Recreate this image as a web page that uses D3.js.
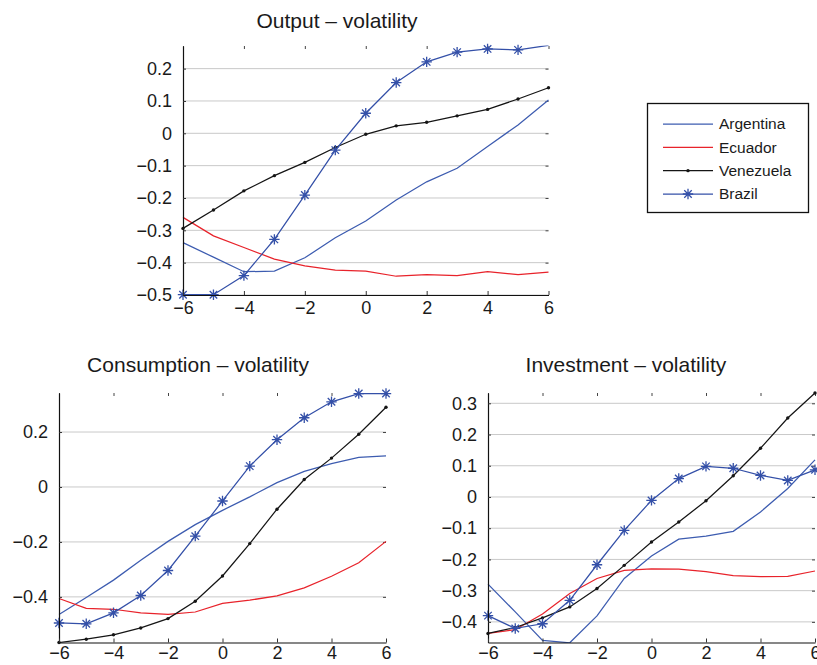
<!DOCTYPE html>
<html>
<head>
<meta charset="utf-8">
<script src="https://cdn.jsdelivr.net/npm/d3@7"></script>
<style>
  html, body { margin: 0; padding: 0; background: #fff; }
  svg { display: block; font-family: "Liberation Sans", Arial, Helvetica, sans-serif; }
</style>
</head>
<body>
<svg id="chart" width="817" height="665"></svg>
<script>
// ---------- DATA ----------
const leads = [-6, -5, -4, -3, -2, -1, 0, 1, 2, 3, 4, 5, 6];
const countries = ["Argentina", "Ecuador", "Venezuela", "Brazil"];
const xTickValues = [-6, -4, -2, 0, 2, 4, 6];

// Output – volatility
const outputArgentina = [-0.338, -0.383, -0.428, -0.426, -0.385, -0.323, -0.271, -0.206, -0.150, -0.108, -0.041, 0.026, 0.103];
const outputEcuador   = [-0.260, -0.317, -0.353, -0.389, -0.410, -0.423, -0.426, -0.442, -0.437, -0.440, -0.428, -0.437, -0.429];
const outputVenezuela = [-0.294, -0.237, -0.178, -0.131, -0.090, -0.044, -0.003, 0.023, 0.034, 0.054, 0.074, 0.106, 0.141];
const outputBrazil    = [-0.499, -0.499, -0.440, -0.328, -0.191, -0.052, 0.062, 0.157, 0.221, 0.251, 0.261, 0.258, 0.272];
const outputYTicks = [-0.5, -0.4, -0.3, -0.2, -0.1, 0, 0.1, 0.2];

// Consumption – volatility
const consumptionArgentina = [-0.464, -0.402, -0.339, -0.267, -0.198, -0.137, -0.085, -0.036, 0.016, 0.057, 0.085, 0.108, 0.113];
const consumptionEcuador   = [-0.406, -0.442, -0.445, -0.458, -0.464, -0.455, -0.424, -0.412, -0.396, -0.367, -0.325, -0.276, -0.198];
const consumptionVenezuela = [-0.566, -0.554, -0.538, -0.513, -0.479, -0.416, -0.324, -0.206, -0.081, 0.027, 0.105, 0.192, 0.290];
const consumptionBrazil    = [-0.495, -0.498, -0.458, -0.395, -0.304, -0.179, -0.051, 0.076, 0.172, 0.252, 0.310, 0.340, 0.340];
const consumptionYTicks = [-0.4, -0.2, 0, 0.2];

// Investment – volatility
const investmentArgentina = [-0.279, -0.368, -0.459, -0.467, -0.381, -0.261, -0.189, -0.135, -0.125, -0.110, -0.048, 0.027, 0.119];
const investmentEcuador   = [-0.437, -0.425, -0.375, -0.309, -0.261, -0.235, -0.230, -0.231, -0.239, -0.252, -0.255, -0.254, -0.237];
const investmentVenezuela = [-0.437, -0.418, -0.387, -0.352, -0.293, -0.219, -0.144, -0.080, -0.012, 0.068, 0.156, 0.253, 0.333];
const investmentBrazil    = [-0.380, -0.421, -0.406, -0.331, -0.217, -0.107, -0.011, 0.059, 0.098, 0.092, 0.069, 0.053, 0.087];
const investmentYTicks = [-0.4, -0.3, -0.2, -0.1, 0, 0.1, 0.2, 0.3];

// ---------- STYLE ----------
const colors = { Argentina: "#3d5cb0", Ecuador: "#e8232b", Venezuela: "#151515", Brazil: "#3450a8" };
const markers = { Argentina: null, Ecuador: null, Venezuela: "dot", Brazil: "star" };

const svg = d3.select("#chart");
const fmt = v => v === 0 ? "0" : d3.format(".1f")(v);

const panels = [
  { id: "out", title: "Output \u2013 volatility", titleX: 337, titleY: 28, xPad: 6,
    xr: [183, 548.5], yr: [295, 46], yd: [-0.5, 0.27], yTicks: outputYTicks,
    series: { Argentina: outputArgentina, Ecuador: outputEcuador, Venezuela: outputVenezuela, Brazil: outputBrazil } },
  { id: "con", title: "Consumption \u2013 volatility", titleX: 198, titleY: 372, xPad: 4,
    xr: [59, 386], yr: [642.5, 393], yd: [-0.566, 0.342], yTicks: consumptionYTicks,
    series: { Argentina: consumptionArgentina, Ecuador: consumptionEcuador, Venezuela: consumptionVenezuela, Brazil: consumptionBrazil } },
  { id: "inv", title: "Investment \u2013 volatility", titleX: 626, titleY: 372, xPad: 4,
    xr: [488, 815], yr: [642.5, 393], yd: [-0.466, 0.333], yTicks: investmentYTicks,
    series: { Argentina: investmentArgentina, Ecuador: investmentEcuador, Venezuela: investmentVenezuela, Brazil: investmentBrazil } }
];

function drawStar(g, cx, cy, r, color) {
  const d = r * 0.72;
  const p = `M${cx - r},${cy}L${cx + r},${cy}M${cx},${cy - r}L${cx},${cy + r}` +
            `M${cx - d},${cy - d}L${cx + d},${cy + d}M${cx - d},${cy + d}L${cx + d},${cy - d}`;
  g.append("path").attr("d", p).attr("stroke", color).attr("stroke-width", 1.3).attr("fill", "none");
}

panels.forEach(p => {
  const x = d3.scaleLinear().domain([-6, 6]).range(p.xr);
  const y = d3.scaleLinear().domain(p.yd).range(p.yr);
  const g = svg.append("g");

  // grid
  g.append("g").selectAll("line").data(p.yTicks).join("line")
    .attr("x1", p.xr[0]).attr("x2", p.xr[1])
    .attr("y1", d => y(d)).attr("y2", d => y(d))
    .attr("stroke", "#c9c9c9").attr("stroke-width", 1);

  // top & right tick marks (no axis line)
  const topAx = g.append("g").attr("transform", `translate(0,${p.yr[1]})`)
    .call(d3.axisTop(x).tickValues(xTickValues).tickSize(-3).tickSizeOuter(0).tickFormat(""));
  topAx.select(".domain").remove();
  topAx.selectAll("line").attr("stroke", "#444");
  const rightAx = g.append("g").attr("transform", `translate(${p.xr[1]},0)`)
    .call(d3.axisRight(y).tickValues(p.yTicks).tickSize(-3).tickSizeOuter(0).tickFormat(""));
  rightAx.select(".domain").remove();
  rightAx.selectAll("line").attr("stroke", "#444");

  // clip
  const clipId = "clip-" + p.id;
  svg.append("clipPath").attr("id", clipId).append("rect")
    .attr("x", p.xr[0] - 1).attr("y", p.yr[1] - 0.5)
    .attr("width", p.xr[1] - p.xr[0] + 2).attr("height", p.yr[0] - p.yr[1] + 1);

  const line = d3.line().x((d, i) => x(leads[i])).y(d => y(d));
  const plot = g.append("g");
  countries.forEach(c => {
    const vals = p.series[c];
    plot.append("path").datum(vals).attr("d", line)
      .attr("fill", "none").attr("stroke", colors[c]).attr("stroke-width", 1.25)
      .attr("clip-path", `url(#${clipId})`);
    const inDomain = (v) => v >= p.yd[0] - 0.01 && v <= p.yd[1];
    if (markers[c] === "dot") {
      plot.append("g").selectAll("circle").data(vals.map((v, i) => [leads[i], v]).filter(d => inDomain(d[1]))).join("circle")
        .attr("cx", d => x(d[0])).attr("cy", d => y(d[1])).attr("r", 1.7).attr("fill", colors[c]);
    } else if (markers[c] === "star") {
      vals.forEach((v, i) => { if (inDomain(v)) drawStar(plot, x(leads[i]), y(v), 5.2, colors[c]); });
    }
  });

  // left axis
  const leftAx = g.append("g").attr("transform", `translate(${p.xr[0]},0)`)
    .call(d3.axisLeft(y).tickValues(p.yTicks).tickSize(-3).tickSizeOuter(0).tickPadding(11).tickFormat(fmt));
  leftAx.select(".domain").attr("stroke", "#111").attr("stroke-width", 1.2);
  leftAx.selectAll("line").attr("stroke", "#333");
  leftAx.selectAll("text").attr("font-size", 18).attr("fill", "#1a1a1a")
    .attr("font-family", "'Liberation Sans', Arial, sans-serif");

  // bottom axis
  const botAx = g.append("g").attr("transform", `translate(0,${p.yr[0]})`)
    .call(d3.axisBottom(x).tickValues(xTickValues).tickSize(-4).tickSizeOuter(0).tickPadding(p.xPad).tickFormat(d3.format("d")));
  botAx.select(".domain").attr("stroke", "#111").attr("stroke-width", 1.2);
  botAx.selectAll("line").attr("stroke", "#333");
  botAx.selectAll("text").attr("font-size", 18).attr("fill", "#1a1a1a")
    .attr("font-family", "'Liberation Sans', Arial, sans-serif");

  // title
  svg.append("text").attr("x", p.titleX).attr("y", p.titleY).attr("text-anchor", "middle")
    .attr("font-size", 21).attr("fill", "#1a1a1a").text(p.title);
});

// legend
const lg = svg.append("g");
lg.append("rect").attr("x", 647.5).attr("y", 103.5).attr("width", 161).attr("height", 109)
  .attr("fill", "#fff").attr("stroke", "#111").attr("stroke-width", 1.3);
const legendY = d3.scalePoint().domain(countries).range([124, 194]);
countries.forEach(c => {
  const yy = legendY(c);
  lg.append("line").attr("x1", 663).attr("x2", 713).attr("y1", yy).attr("y2", yy)
    .attr("stroke", colors[c]).attr("stroke-width", 1.25);
  if (markers[c] === "dot") lg.append("circle").attr("cx", 688).attr("cy", yy).attr("r", 1.7).attr("fill", colors[c]);
  if (markers[c] === "star") drawStar(lg, 688, yy, 5.2, colors[c]);
  lg.append("text").attr("x", 719).attr("y", yy).attr("dy", "0.35em")
    .attr("font-size", 15.5).attr("fill", "#1a1a1a").text(c);
});
</script>
</body>
</html>
